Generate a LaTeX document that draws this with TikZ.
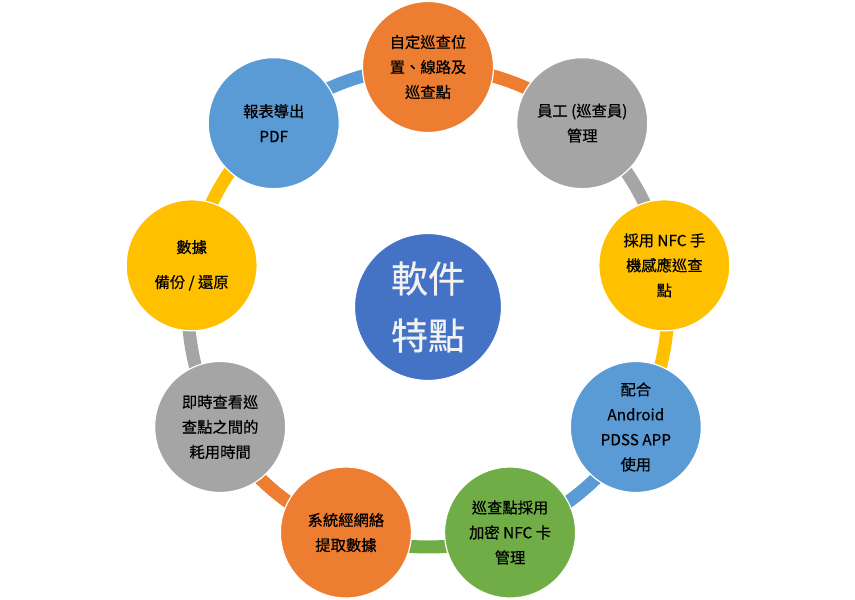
\documentclass[tikz,border=0pt]{standalone}
\usepackage{fontspec}
\setmainfont{Noto Sans CJK TC}
\newfontfamily\cjkheavy{Noto Sans CJK TC}[FakeBold=0.5]
\usepackage{xcolor}
\usetikzlibrary{calc,backgrounds}
\definecolor{cOrange}{HTML}{ED7D31}
\definecolor{cGray}{HTML}{A5A5A5}
\definecolor{cYellow}{HTML}{FFC000}
\definecolor{cBlue}{HTML}{5B9BD5}
\definecolor{cGreen}{HTML}{70AD47}
\definecolor{cHub}{HTML}{4472C4}
\definecolor{cHubText}{HTML}{F2F2F2}

\begin{document}
\begin{tikzpicture}[
  x=1pt, y=1pt,
  font=\cjkheavy\fontsize{15.3}{25}\selectfont,
  item/.style={circle, draw=white, line width=1.2pt, minimum size=131pt, inner sep=0pt, align=center, text=black},
  hub/.style={item, minimum size=147pt, fill=cHub, text=cHubText, font=\cjkheavy\fontsize{37}{57}\selectfont},
  ring/.style={line width=13pt}
]
\useasboundingbox (0,0) rectangle (855,600);
\node[hub] (core) at (428,293) {軟件\\特點};
\node[item, fill=cOrange] (n1) at ($(core)+(90:240pt)$)  {自定巡查位\\置、線路及\\巡查點};
\node[item, fill=cGray]   (n2) at ($(core)+(50:240pt)$)  {員工 (巡查員)\\管理};
\node[item, fill=cYellow] (n3) at ($(core)+(10:240pt)$)  {採用 NFC 手\\機感應巡查\\點};
\node[item, fill=cBlue]   (n4) at ($(core)+(-30:240pt)$) {配合\\Android\\PDSS APP\\使用};
\node[item, fill=cGreen]  (n5) at ($(core)+(-70:240pt)$) {巡查點採用\\加密 NFC 卡\\管理};
\node[item, fill=cOrange] (n6) at ($(core)+(-110:240pt)$) {系統經網絡\\提取數據};
\node[item, fill=cGray]   (n7) at ($(core)+(-150:240pt)$) {即時查看巡\\查點之間的\\耗用時間};
\node[item, fill=cYellow] (n8) at ($(core)+(170:240pt)$) {數據\\[10pt]備份 / 還原};
\node[item, fill=cBlue]   (n9) at ($(core)+(130:240pt)$) {報表導出\\PDF};
% ring segments behind the circles
\begin{pgfonlayer}{background}
\draw[ring, cOrange] (n1.center) arc[start angle=90, end angle=50, radius=240pt];
\draw[ring, cGray]   (n2.center) arc[start angle=50, end angle=10, radius=240pt];
\draw[ring, cYellow] (n3.center) arc[start angle=10, end angle=-30, radius=240pt];
\draw[ring, cBlue]   (n4.center) arc[start angle=-30, end angle=-70, radius=240pt];
\draw[ring, cGreen]  (n5.center) arc[start angle=-70, end angle=-110, radius=240pt];
\draw[ring, cOrange] (n6.center) arc[start angle=-110, end angle=-150, radius=240pt];
\draw[ring, cGray]   (n7.center) arc[start angle=-150, end angle=-190, radius=240pt];
\draw[ring, cYellow] (n8.center) arc[start angle=170, end angle=130, radius=240pt];
\draw[ring, cBlue]   (n9.center) arc[start angle=130, end angle=90, radius=240pt];
\end{pgfonlayer}
\end{tikzpicture}
\end{document}
